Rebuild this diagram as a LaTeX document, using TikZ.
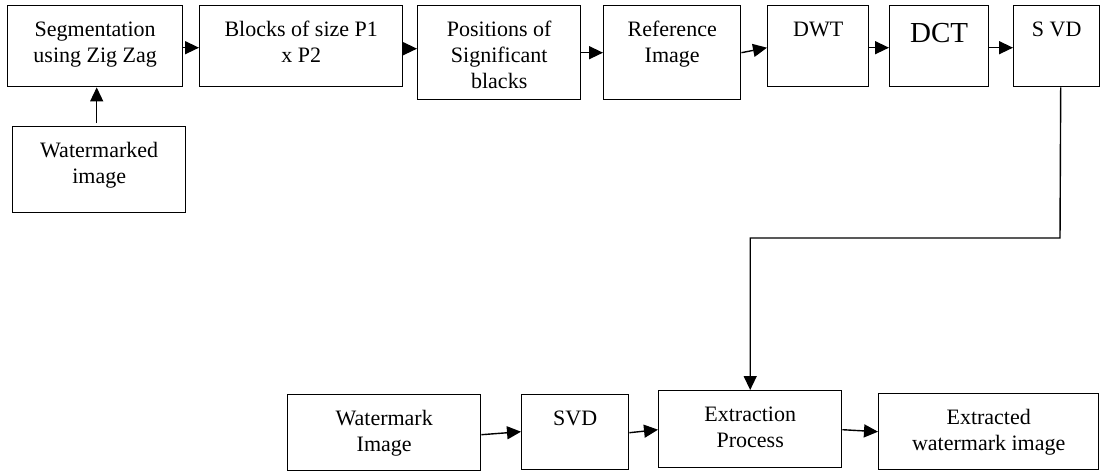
\documentclass[tikz,border=0pt]{standalone}
\usepackage{fontspec}
\setmainfont{Liberation Serif}
\usetikzlibrary{arrows.meta}
\tikzset{
  box/.style={draw, line width=1.4pt, inner sep=0pt, anchor=north west},
  lbl/.style={anchor=north, align=center, inner sep=0pt, font=\rmfamily\fontsize{22}{26}\selectfont},
  biglbl/.style={anchor=north, align=center, inner sep=0pt, font=\rmfamily\fontsize{29}{34}\selectfont},
  arr/.style={-{Triangle[length=14pt,width=13pt]}, line width=1.4pt},
  conn/.style={line width=1.4pt}
}
\begin{document}
\begin{tikzpicture}[x=1pt,y=-1pt]
\useasboundingbox (0,0) rectangle (1100,471);
% top row boxes
\node[box, minimum width=175pt, minimum height=81pt] (seg) at (7,5) {};
\node[box, minimum width=203pt, minimum height=81pt] (blk) at (199,5) {};
\node[box, minimum width=163pt, minimum height=94pt] (pos) at (417,5) {};
\node[box, minimum width=137pt, minimum height=94pt] (ref) at (603,5) {};
\node[box, minimum width=101pt, minimum height=81pt] (dwt) at (767,5) {};
\node[box, minimum width=99pt, minimum height=81pt] (dct) at (889,5) {};
\node[box, minimum width=86pt, minimum height=81pt] (svd) at (1013,5) {};
\node[box, minimum width=173pt, minimum height=86pt] (wmd) at (12,126) {};
% bottom row boxes
\node[box, minimum width=193pt, minimum height=76pt] (wmk) at (287,394) {};
\node[box, minimum width=107pt, minimum height=75pt] (svdb) at (521,394) {};
\node[box, minimum width=183pt, minimum height=77pt] (ext) at (658,390) {};
\node[box, minimum width=220pt, minimum height=76pt] (exd) at (878,393) {};
% labels
\node[lbl] (tseg) at ([yshift=-12.8pt]seg.north) {\strut Segmentation\\using Zig Zag};
\node[lbl] (tblk) at ([yshift=-12.8pt]blk.north) {\strut Blocks of size P1\\x P2};
\node[lbl] (tpos) at ([yshift=-12.8pt]pos.north) {\strut Positions of\\Significant\\blacks};
\node[lbl] (tref) at ([yshift=-12.8pt]ref.north) {\strut Reference\\Image};
\node[lbl] (tdwt) at ([yshift=-12.8pt]dwt.north) {\strut DWT};
\node[biglbl] (tdct) at ([yshift=-13.2pt]dct.north) {\strut DCT};
\node[lbl] (tsvd) at ([yshift=-12.8pt]svd.north) {\strut S VD};
\node[lbl] (twmd) at ([yshift=-12.8pt]wmd.north) {\strut Watermarked\\image};
\node[lbl] (twmk) at ([yshift=-12.8pt]wmk.north) {\strut Watermark\\Image};
\node[lbl] (tsvdb) at ([yshift=-12.8pt]svdb.north) {\strut SVD};
\node[lbl] (text) at ([yshift=-12.8pt]ext.north) {\strut Extraction\\Process};
\node[lbl] (texd) at ([yshift=-12.8pt]exd.north) {\strut Extracted\\watermark image};
% connectors
\draw[arr] ([xshift=-2.5pt,yshift=3pt]wmd.north) -- ([xshift=1.5pt]seg.south);
\draw[arr] ([yshift=-1.5pt]seg.east) -- ([yshift=-1.5pt]blk.west);
\draw[arr] ([yshift=-2.5pt]blk.east) -- ([yshift=4pt]pos.west);
\draw[arr] (pos.east) -- (ref.west);
\draw[arr] (ref.east) -- ([yshift=-1.5pt]dwt.west);
\draw[arr] ([yshift=-1.5pt]dwt.east) -- ([yshift=-1.5pt]dct.west);
\draw[arr] ([yshift=-1.5pt]dct.east) -- ([yshift=-1.5pt]svd.west);
\coordinate (bend) at (1060,238);
\draw[arr] ([xshift=4pt]svd.south) -- (bend) -| (ext.north);
\draw[arr] ([yshift=-2pt]wmk.east) -- ([yshift=0.5pt]svdb.west);
\draw[arr] ([yshift=-0.5pt]svdb.east) -- ([yshift=-0.5pt]ext.west);
\draw[arr] ([yshift=-0.5pt]ext.east) -- (exd.west);
\end{tikzpicture}
\end{document}
